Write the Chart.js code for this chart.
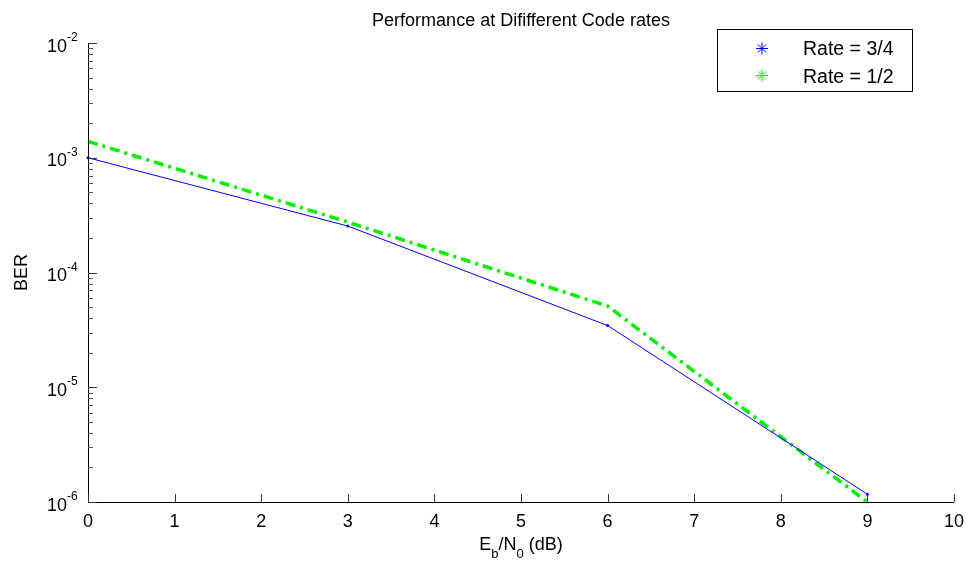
<!DOCTYPE html>
<html>
<head>
<meta charset="utf-8">
<script src="https://cdn.jsdelivr.net/npm/chart.js@4.4.1/dist/chart.umd.min.js"></script>
<style>
html,body{margin:0;padding:0;background:#fff;}
canvas{display:block;}
</style>
</head>
<body>
<canvas id="c" width="969" height="561"></canvas>
<script>
const ebn0 = [0, 3, 6, 9];
const berRate34 = [1.0e-3, 2.54e-4, 3.45e-5, 1.17e-6];
const berRate12 = [1.39e-3, 2.75e-4, 5.1e-5, 1.0e-6];
const seriesNames = ['Rate = 3/4', 'Rate = 1/2'];
const xTicks = [0,1,2,3,4,5,6,7,8,9,10];
const yExponents = [-2,-3,-4,-5,-6];
const titleText = 'Performance at Dififferent Code rates';
const yLabel = 'BER';

const FONT = '"Liberation Sans", Arial, Helvetica, sans-serif';

const decor = {
  id: 'decor',
  afterDraw(chart) {
    const ctx = chart.ctx;
    const xs = chart.scales.x, ys = chart.scales.y;
    const L = chart.chartArea.left, R = chart.chartArea.right, T = chart.chartArea.top, B = chart.chartArea.bottom;
    ctx.save();
    ctx.strokeStyle = '#000'; ctx.lineWidth = 1;
    ctx.beginPath();
    ctx.moveTo(L + 0.5, T); ctx.lineTo(L + 0.5, B + 0.5); ctx.lineTo(R, B + 0.5);
    ctx.stroke();
    ctx.strokeStyle = '#333';
    xTicks.forEach(v => {
      const px = Math.round(xs.getPixelForValue(v)) + 0.5;
      ctx.beginPath(); ctx.moveTo(px, B); ctx.lineTo(px, B - 8); ctx.stroke();
    });
    for (let e = -6; e <= -2; e++) {
      const py = Math.round(ys.getPixelForValue(Math.pow(10, e))) + 0.5;
      ctx.strokeStyle = '#333';
      ctx.beginPath(); ctx.moveTo(L, py); ctx.lineTo(L + 9, py); ctx.stroke();
      if (e < -2) {
        for (let m = 2; m <= 9; m++) {
          const pm = Math.round(ys.getPixelForValue(m * Math.pow(10, e))) + 0.5;
          ctx.strokeStyle = '#555';
          ctx.beginPath(); ctx.moveTo(L, pm); ctx.lineTo(L + 5, pm); ctx.stroke();
        }
      }
    }
    ctx.fillStyle = '#000';
    ctx.font = '18px ' + FONT;
    ctx.textAlign = 'center'; ctx.textBaseline = 'alphabetic';
    xTicks.forEach(v => {
      ctx.fillText(String(v), xs.getPixelForValue(v), B + 25);
    });
    yExponents.forEach(e => {
      const py = ys.getPixelForValue(Math.pow(10, e));
      ctx.font = '18px ' + FONT;
      ctx.textAlign = 'right';
      ctx.fillText('10', 67, py + 8.5);
      ctx.font = '12px ' + FONT;
      ctx.textAlign = 'left';
      ctx.fillText(String(e), 67, py - 2);
    });
    ctx.font = '18px ' + FONT;
    ctx.textAlign = 'center';
    ctx.fillText(titleText, (L + R) / 2, 26);
    const parts = [['E', 18, 0], ['b', 13, 8], ['/N', 18, 0], ['0', 13, 8], [' (dB)', 18, 0]];
    let w = 0;
    parts.forEach(p => { ctx.font = p[1] + 'px ' + FONT; w += ctx.measureText(p[0]).width; });
    let x0 = (L + R) / 2 - w / 2;
    ctx.textAlign = 'left';
    parts.forEach(p => {
      ctx.font = p[1] + 'px ' + FONT;
      ctx.fillText(p[0], x0, 550 + p[2]);
      x0 += ctx.measureText(p[0]).width;
    });
    ctx.save();
    ctx.translate(27, (T + B) / 2);
    ctx.rotate(-Math.PI / 2);
    ctx.textAlign = 'center';
    ctx.font = '18px ' + FONT;
    ctx.fillText(yLabel, 0, 0);
    ctx.restore();
    ctx.fillStyle = '#fff';
    ctx.fillRect(717.5, 29.5, 195, 62);
    ctx.strokeStyle = '#000'; ctx.lineWidth = 1;
    ctx.strokeRect(717.5, 29.5, 195, 62);
    const legendColors = [chart.data.datasets[0].borderColor, chart.data.datasets[1].borderColor];
    const rowsY = [48.5, 75.5];
    seriesNames.forEach((name, i) => {
      const cx = 762, cy = rowsY[i], r = 6;
      ctx.strokeStyle = legendColors[i]; ctx.lineWidth = 1;
      ctx.beginPath();
      ctx.moveTo(cx - r, cy); ctx.lineTo(cx + r, cy);
      ctx.moveTo(cx, cy - r); ctx.lineTo(cx, cy + r);
      const d = r * 0.7;
      ctx.moveTo(cx - d, cy - d); ctx.lineTo(cx + d, cy + d);
      ctx.moveTo(cx - d, cy + d); ctx.lineTo(cx + d, cy - d);
      ctx.stroke();
      ctx.fillStyle = '#000';
      ctx.font = '19.5px ' + FONT;
      ctx.textAlign = 'left';
      ctx.fillText(name, 803, i === 0 ? 55 : 83);
    });
    ctx.restore();
  }
};

new Chart(document.getElementById('c'), {
  type: 'line',
  data: {
    datasets: [
      {
        label: seriesNames[0],
        data: ebn0.map((x, i) => ({x, y: berRate34[i]})),
        borderColor: '#0000ff',
        backgroundColor: '#0000ff',
        borderWidth: 1,
        pointRadius: 1.5,
        pointBorderWidth: 0,
        pointStyle: 'circle',
        tension: 0,
        clip: false
      },
      {
        label: seriesNames[1],
        data: ebn0.map((x, i) => ({x, y: berRate12[i]})),
        borderColor: '#00ee00',
        backgroundColor: '#00ee00',
        borderWidth: 3.5,
        borderDash: [10, 5, 3, 5],
        pointRadius: 0,
        tension: 0,
        clip: false
      }
    ]
  },
  options: {
    responsive: false,
    animation: false,
    devicePixelRatio: 1,
    layout: { padding: { left: 88, top: 43, right: 15, bottom: 59 } },
    plugins: { legend: { display: false }, title: { display: false }, tooltip: { enabled: false } },
    scales: {
      x: {
        type: 'linear', min: 0, max: 10,
        ticks: { display: false },
        grid: { display: false, drawTicks: false },
        border: { display: false },
        afterFit(s) { s.height = 0; }
      },
      y: {
        type: 'logarithmic', min: 1e-6, max: 1e-2,
        ticks: { display: false },
        grid: { display: false, drawTicks: false },
        border: { display: false },
        afterFit(s) { s.width = 0; }
      }
    }
  },
  plugins: [decor]
});
</script>
</body>
</html>
